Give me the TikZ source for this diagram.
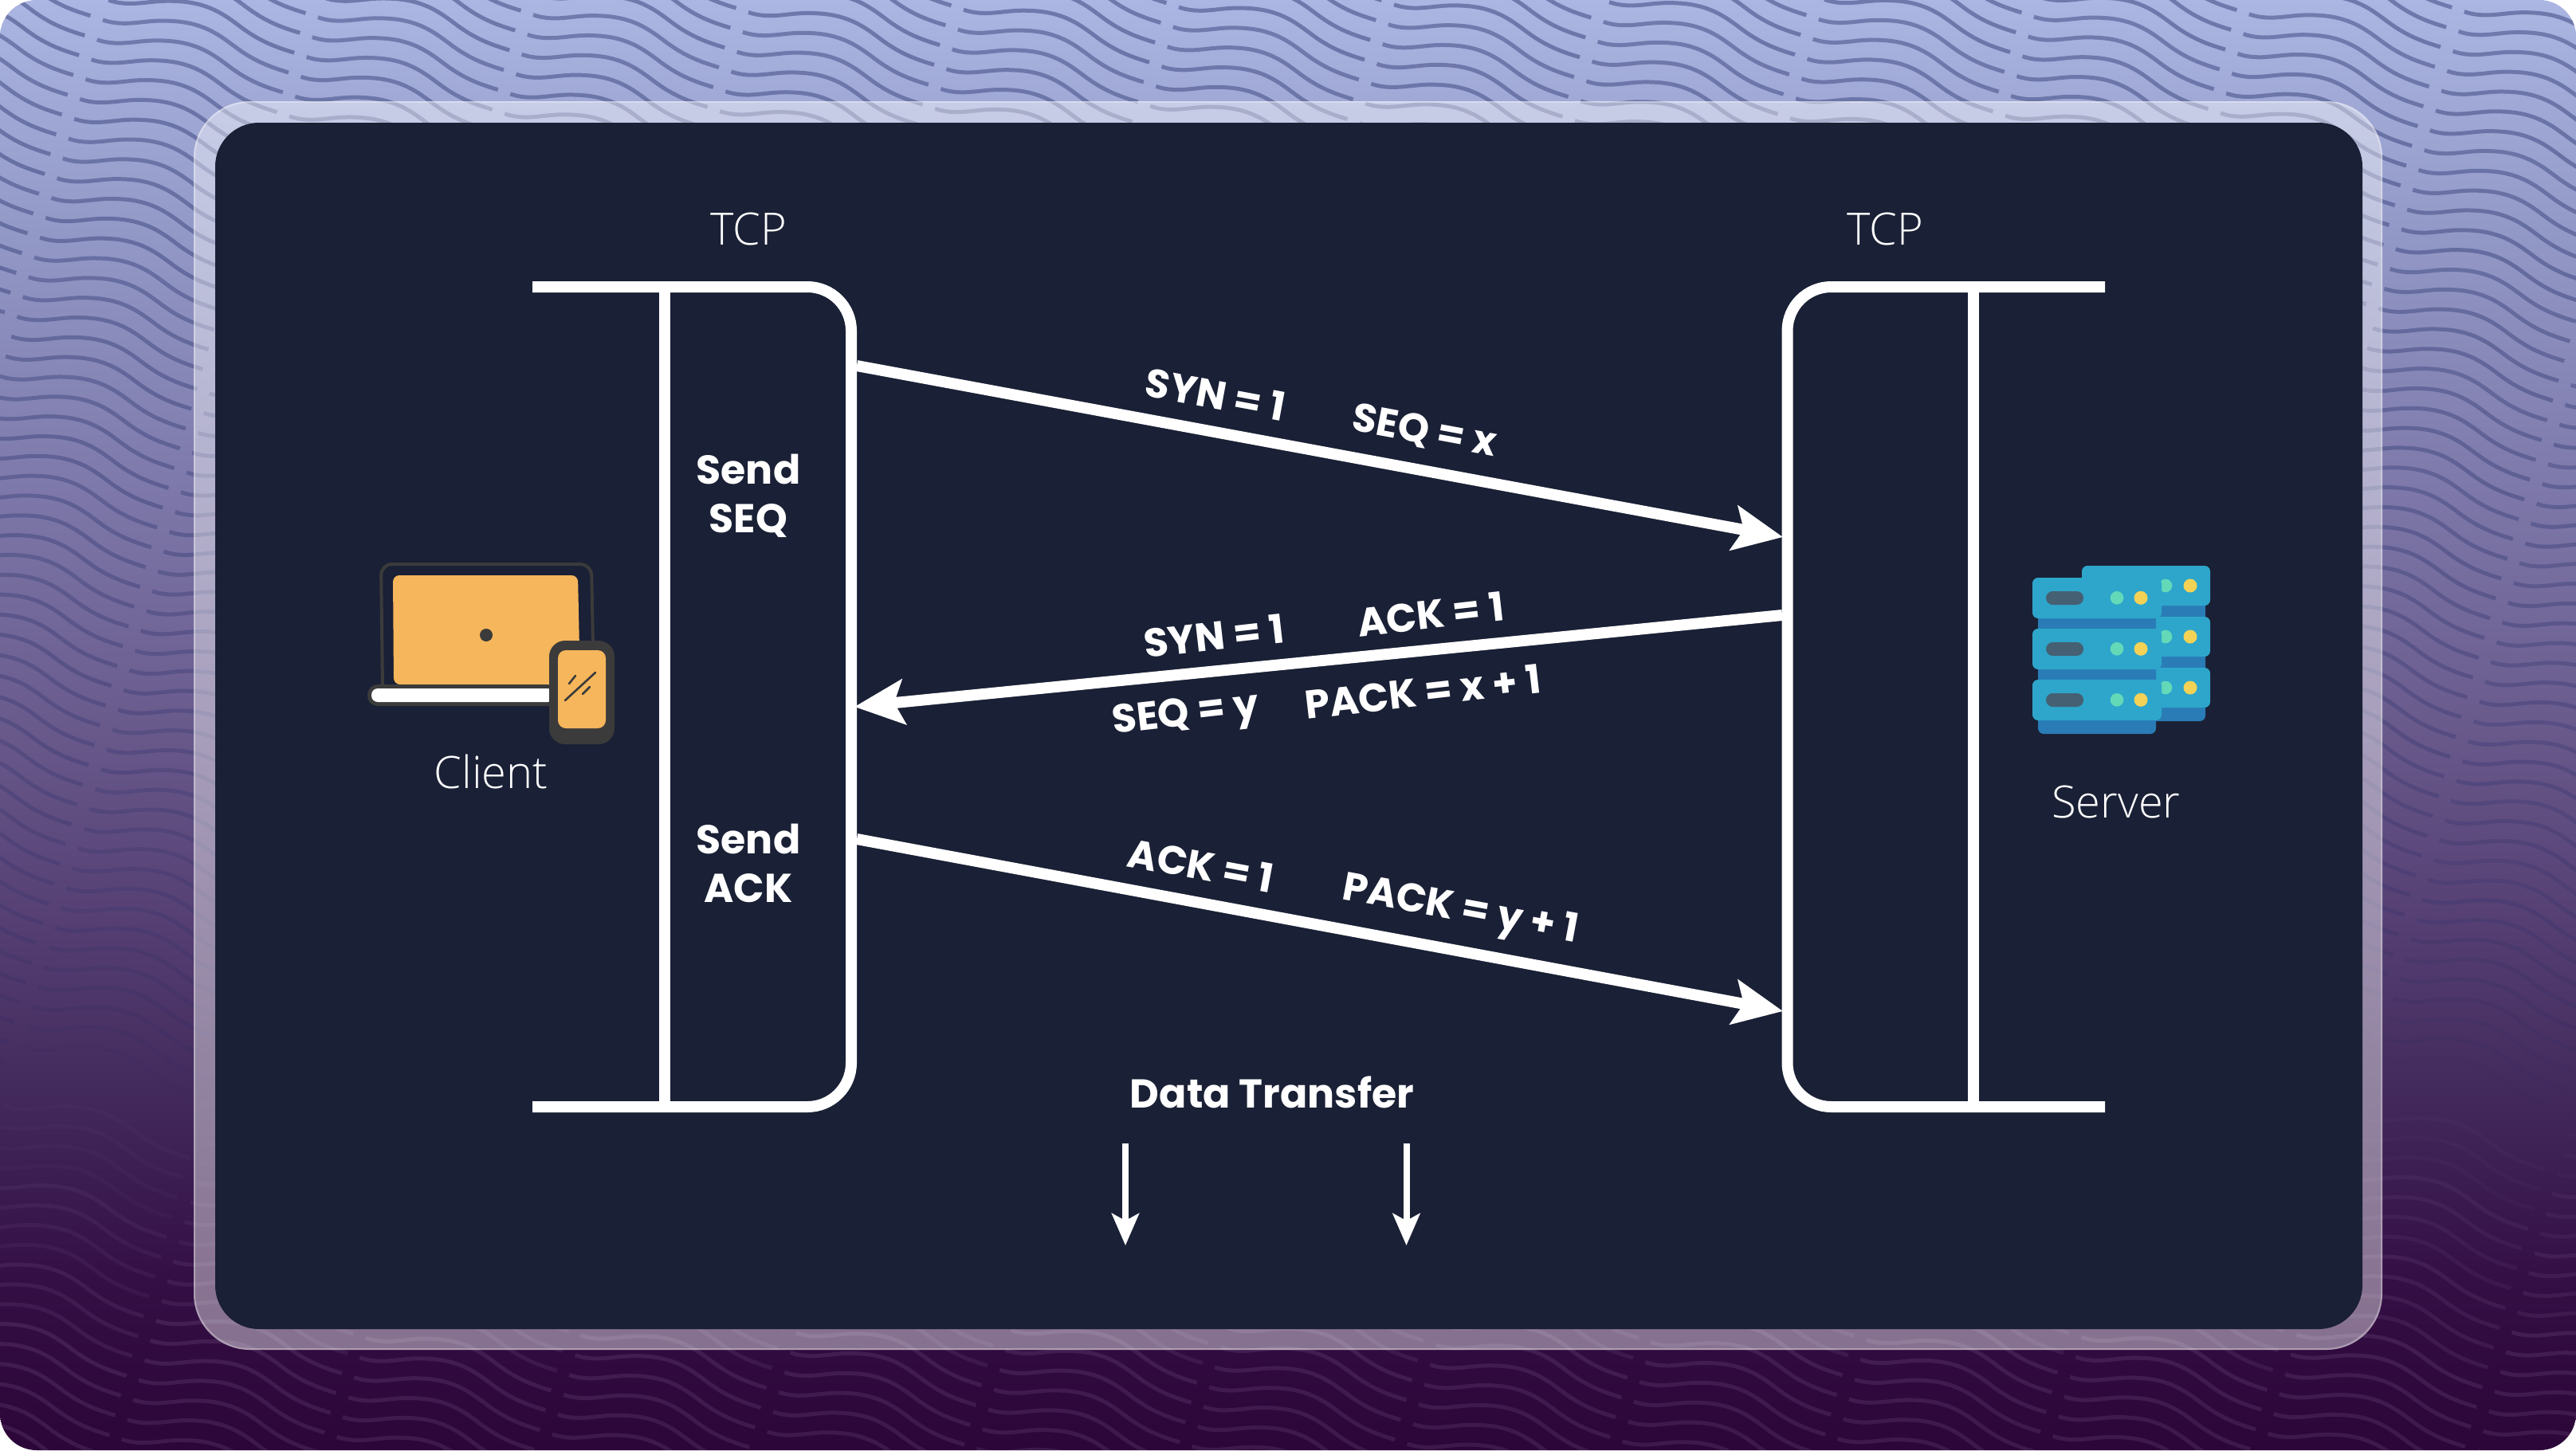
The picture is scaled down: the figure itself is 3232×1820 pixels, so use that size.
\documentclass[tikz,border=0pt]{standalone}
\usepackage{fontspec}
\setmainfont{Open Sans Light}
\newfontfamily\pop{Poppins}[BoldFont={Poppins Bold}]
\usetikzlibrary{arrows.meta}
\definecolor{cardbg}{HTML}{1A2035}
\definecolor{gA}{HTML}{ABB6E2}
\definecolor{gB}{HTML}{9298C6}
\definecolor{gC}{HTML}{7E7AAB}
\definecolor{gD}{HTML}{6A5B8D}
\definecolor{gE}{HTML}{5A4579}
\definecolor{gF}{HTML}{432A5C}
\definecolor{gG}{HTML}{340F45}
\definecolor{gH}{HTML}{2C0638}
\definecolor{wavedark}{HTML}{1E2864}
\definecolor{wavelight}{HTML}{E0C8FF}
\definecolor{icondark}{HTML}{3B3B3B}
\definecolor{iconorange}{HTML}{F6B65B}
\definecolor{srvlight}{HTML}{2EA6CB}
\definecolor{srvdark}{HTML}{2A7CB6}
\definecolor{srvpill}{HTML}{456073}
\definecolor{srvgreen}{HTML}{64D9B7}
\definecolor{srvyellow}{HTML}{F4D256}
\pgfdeclareverticalshading{pagebg}{100bp}{
 color(0bp)=(gH); color(25bp)=(gH); color(31bp)=(gG); color(37.4bp)=(gF);
 color(44.8bp)=(gE); color(50.27bp)=(gD); color(58.5bp)=(gC); color(66.76bp)=(gB);
 color(75bp)=(gA); color(100bp)=(gA)}
\tikzset{
 frameline/.style={draw=white,line width=7pt,line cap=butt},
 msgarrow/.style={draw=white,line width=7pt,-{Stealth[length=31pt,width=28pt,inset=6pt]}},
 dataarrow/.style={draw=white,line width=4pt,-{Stealth[length=20pt,width=17pt,inset=4.5pt]}},
 lighttext/.style={text=white,inner sep=0pt,anchor=base,font=\fontsize{28}{28}\selectfont},
 boldtext/.style={text=white,inner sep=0pt,anchor=base,font=\pop\bfseries\fontsize{25.3}{25.3}\selectfont},
 msglabel/.style={text=white,inner sep=0pt,anchor=center,font=\pop\bfseries\fontsize{25}{25}\selectfont},
}
\begin{document}
\begin{tikzpicture}[x=0.5pt,y=-0.5pt]
\useasboundingbox (0,0) rectangle (3232,1820);
\fill[white] (0,0) rectangle (3232,1820);
\begin{scope}
\clip[rounded corners=23pt] (0,0) rectangle (3232,1820);
\shade[shading=pagebg] (0,0) rectangle (3232,1820);
\foreach \a in {-2,...,14}{
 \foreach \b in {-5,...,80}{
  \pgfmathsetmacro\px{129+270*\a-7.17*\b}
  \pgfmathsetmacro\py{25-3.2*\a+24.83*\b}
  \pgfmathtruncatemacro\vis{(\px>-240)&&(\px<3240)&&(\py>-75)&&(\py<1830)?1:0}
  \ifnum\vis=1
   \pgfmathsetmacro\ym{\py+33}
   \pgfmathtruncatemacro\dk{\ym<1370?1:0}
   \ifnum\dk=1
    \pgfmathsetmacro\op{round(40*0.42*sqrt((1370-\ym)/1370))/40}
    \def\wc{wavedark}
   \else
    \pgfmathsetmacro\op{round(40*0.11*min(1,(\ym-1370)/400))/40}
    \def\wc{wavelight}
   \fi
   \draw[shift={(\px,\py)},draw=\wc,draw opacity=\op,line width=2.5pt]
    (0,0) .. controls (10,3.5) and (20,4.5) .. (30,4.3)
    .. controls (50,3.5) and (62,0) .. (85,1.3)
    .. controls (125,3) and (145,18) .. (165,33)
    .. controls (190,52) and (210,59) .. (233,66);
  \fi
 }
}
\end{scope}
% glass frame and card
\fill[white,fill opacity=0.42,rounded corners=35pt] (243,127) rectangle (2989,1694);
\draw[white,draw opacity=0.3,line width=1pt,rounded corners=35pt] (244,128) rectangle (2988,1693);
\fill[cardbg,rounded corners=27.5pt] (270,154) rectangle (2964,1668);
% brackets
\coordinate (ltl) at (668,360); \coordinate (ltr) at (1068,360);
\coordinate (lbr) at (1068,1389); \coordinate (lbl) at (668,1389);
\coordinate (lvt) at (834,360); \coordinate (lvb) at (834,1389);
\draw[frameline,rounded corners=27.5pt] (ltl) -- (ltr) -- (lbr) -- (lbl);
\draw[frameline] (lvt) -- (lvb);
\coordinate (rtr) at (2641,360); \coordinate (rtl) at (2242.5,360);
\coordinate (rbl) at (2242.5,1389); \coordinate (rbr) at (2641,1389);
\coordinate (rvt) at (2476,360); \coordinate (rvb) at (2476,1389);
\draw[frameline,rounded corners=27.5pt] (rtr) -- (rtl) -- (rbl) -- (rbr);
\draw[frameline] (rvt) -- (rvb);
% message arrows
\coordinate (m1s) at (1075,459); \coordinate (m1e) at (2237,674);
\coordinate (m2s) at (2236,772); \coordinate (m2e) at (1072,887);
\coordinate (m3s) at (1075,1053); \coordinate (m3e) at (2237,1269);
\draw[msgarrow] (m1s) -- (m1e);
\draw[msgarrow] (m2s) -- (m2e);
\draw[msgarrow] (m3s) -- (m3e);
% data arrows
\coordinate (d1s) at (1412,1435); \coordinate (d1e) at (1412,1563);
\coordinate (d2s) at (1764.5,1435); \coordinate (d2e) at (1764.5,1563);
\draw[dataarrow] (d1s) -- (d1e);
\draw[dataarrow] (d2s) -- (d2e);
% texts
\node[lighttext] (tcpl) at (939,307) {TCP};
\node[lighttext] (tcpr) at (2365,307) {TCP};
\node[lighttext] (client) at (616,989) {Client};
\node[lighttext] (server) at (2655,1026) {Server};
\node[boldtext] (send1) at (939,607) {Send};
\node[boldtext] (seq1) at (939,668) {SEQ};
\node[boldtext] (send2) at (939,1071) {Send};
\node[boldtext] (ack2) at (939,1132) {ACK};
\node[boldtext] (data) at (1596,1390) {Data Transfer};
\node[msglabel,rotate=-10.5] (l1) at (1525,495) {SYN = 1};
\node[msglabel,rotate=-10.5] (l2) at (1787,542) {SEQ = x};
\node[msglabel,rotate=6.5] (l3) at (1523,798) {SYN = 1};
\node[msglabel,rotate=6.5] (l4) at (1795,771) {ACK = 1};
\node[msglabel,rotate=6.5] (l5) at (1488,899) {SEQ = y};
\node[msglabel,rotate=6.5] (l6) at (1785,868) {PACK = x + 1};
\node[msglabel,rotate=-10.5] (l7) at (1507,1086) {ACK = 1};
\node[msglabel,rotate=-10.5] (l8) at (1832,1144) {PACK = y + 1};
% laptop
\draw[icondark,line width=2pt,rounded corners=7pt] (480,860) -- (478,708) -- (742,708) -- (745,860);
\fill[iconorange,rounded corners=4pt] (493,722) -- (725,722) -- (728,860) -- (494,859) -- cycle;
\fill[icondark] (610,797) circle (8);
\fill[icondark,rounded corners=6.5pt] (461,859) rectangle (700,886);
\fill[white,rounded corners=4pt] (466,864) rectangle (695,881);
\fill[icondark,rounded corners=10pt] (689,804) rectangle (771,934);
\fill[iconorange,rounded corners=5pt] (700,816) rectangle (760,914);
\draw[icondark,line width=1.3pt,line cap=round] (709,879) -- (747,844);
\draw[icondark,line width=1.3pt,line cap=round] (714,858) -- (722,848);
\draw[icondark,line width=1.3pt,line cap=round] (731,871) -- (740,862);
% server
\fill[srvdark,rounded corners=3.5pt] (2612,740) rectangle (2767,905);
\foreach \dy in {0,64,128}{
 \fill[srvlight,rounded corners=3.5pt] (2612,710+\dy) rectangle (2773,760+\dy);
 \fill[srvgreen] (2717,735+\dy) circle (8.3);
 \fill[srvyellow] (2748,735+\dy) circle (8.5);
}
\fill[srvdark,rounded corners=3.5pt] (2557,760) rectangle (2705,921);
\foreach \dy in {0,64,128}{
 \fill[srvlight,rounded corners=3.5pt] (2550,725+\dy) rectangle (2712,776+\dy);
 \fill[srvpill,rounded corners=4.2pt] (2567,742+\dy) rectangle (2614,759+\dy);
 \fill[srvgreen] (2656,750.3+\dy) circle (8.3);
 \fill[srvyellow] (2686,750.3+\dy) circle (8.5);
}
\end{tikzpicture}
\end{document}
